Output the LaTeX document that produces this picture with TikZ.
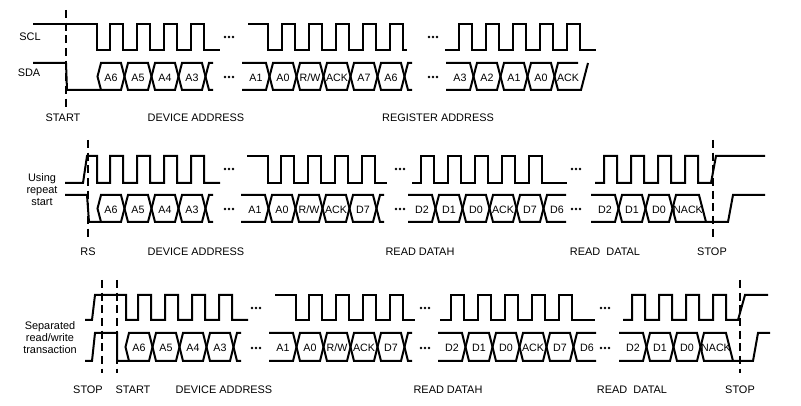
\documentclass[tikz,border=0pt]{standalone}
\usepackage{fontspec}
\setmainfont{Liberation Sans}
\begin{document}
\begin{tikzpicture}[x=0.75pt,y=-0.75pt,
  sig/.style={line width=1.5pt,line join=miter},
  dsh/.style={line width=1.6pt,dash pattern=on 6pt off 3.5pt},
  lab/.style={font=\fontsize{8}{9}\selectfont,inner sep=0pt},
  txt/.style={font=\fontsize{8.2}{10}\selectfont,inner sep=0pt,align=center}]
\useasboundingbox (0,0) rectangle (801,406);
\newcommand\hx[4]{\draw[sig] ({#1-13.5},{(#2+#3)/2}) -- ({#1-10},#2) -- ({#1+10},#2) -- ({#1+13.5},{(#2+#3)/2}) -- ({#1+10},#3) -- ({#1-10},#3) -- cycle;
  \node[lab] at (#1,{(#2+#3)/2+1}) {#4};}
\newcommand\hxo[4]{\draw[sig] ({#1-14},#2) -- ({#1+10},#2) -- ({#1+13.5},{(#2+#3)/2}) -- ({#1+10},#3) -- ({#1-14},#3);
  \node[lab] at (#1,{(#2+#3)/2+1}) {#4};}
\newcommand\hxr[4]{\draw[sig] ({#1+9},#2) -- ({#1-10},#2) -- ({#1-13.5},{(#2+#3)/2}) -- ({#1-10},#3) -- ({#1+9},#3);
  \node[lab] at (#1,{(#2+#3)/2+1}) {#4};}
\newcommand\hxp[3]{\draw[sig] ({#1-6},#2) -- ({#1-10},#2) -- ({#1-13.5},{(#2+#3)/2}) -- ({#1-10},#3) -- ({#1-6},#3);}
\newcommand\dts[2]{\foreach \d in {-4,0,4}{\fill ({#1+\d},#2) circle (1.3);}}
% ================= ROW 1
\draw[sig] (33,24) -- (97,24) -- (97,50) foreach \c in {111,138,165,192}{ -- ({\c-1},50) -- ({\c-1},24) -- ({\c+12},24) -- ({\c+12},50)} -- (220,50);
\draw[sig] (33,63) -- (66,63) -- (67,90) -- (101,90);
\hx{111}{63}{90}{A6}\hx{138}{63}{90}{A5}\hx{165}{63}{90}{A4}\hx{192}{63}{90}{A3}\hxp{219}{63}{90}
\dts{229}{37}\dts{229}{77}
\draw[sig] (248,24) -- (268,24) -- (268,50) foreach \c in {283,310,337,364,391}{ -- ({\c-1},50) -- ({\c-1},24) -- ({\c+12},24) -- ({\c+12},50)} -- (407,50);
\hxo{256}{63}{90}{A1}\hx{283}{63}{90}{A0}\hx{310}{63}{90}{R/W}\hx{337}{63}{90}{ACK}\hx{364}{63}{90}{A7}\hx{391}{63}{90}{A6}\hxp{418}{63}{90}
\dts{433}{37}\dts{433}{77}
\draw[sig] (445,50) foreach \c in {460,487,514,541,568}{ -- ({\c-1},50) -- ({\c-1},24) -- ({\c+12},24) -- ({\c+12},50)} -- (596,50);
\hxo{460}{63}{90}{A3}\hx{487}{63}{90}{A2}\hx{514}{63}{90}{A1}\hx{541}{63}{90}{A0}
\draw[sig] (578,63) -- (558,63) -- (554.5,76.5) -- (558,90) -- (581,90) -- (588,63);
\node[lab] at (568,77.5) {ACK};
\draw[dsh] (66,10) -- (66,108);
\node[txt] (scl) at (30,37) {SCL};
\node[txt] (sda) at (29,73) {SDA};
\node[txt] (st1) at (63,118) {START};
\node[txt] (da1) at (196,118) {DEVICE ADDRESS};
\node[txt] (ra1) at (438,118) {REGISTER ADDRESS};
% ================= ROW 2
\draw[sig] (65,183) -- (83,183) -- (87,156) -- (97,156) -- (97,183) foreach \c in {111,138,165,192}{ -- ({\c-1},183) -- ({\c-1},156) -- ({\c+12},156) -- ({\c+12},183)} -- (220,183);
\draw[sig] (65,195) -- (87,195) -- (89,222) -- (101,222);
\hx{111}{195}{222}{A6}\hx{138}{195}{222}{A5}\hx{165}{195}{222}{A4}\hx{192}{195}{222}{A3}\hxp{219}{195}{222}
\dts{229}{169}\dts{229}{209}
\draw[sig] (247,156) -- (268,156) -- (268,183) foreach \c in {282,309,336,363}{ -- ({\c-1},183) -- ({\c-1},156) -- ({\c+12},156) -- ({\c+12},183)} -- (387,183);
\hxo{255}{195}{222}{A1}\hx{282}{195}{222}{A0}\hx{309}{195}{222}{R/W}\hx{336}{195}{222}{ACK}\hx{363}{195}{222}{D7}\hxp{390}{195}{222}
\dts{400}{169}\dts{400}{209}
\draw[sig] (412,183) foreach \c in {422,449,476,503,530}{ -- ({\c-1},183) -- ({\c-1},156) -- ({\c+12},156) -- ({\c+12},183)} -- (567,183);
\hxo{422}{195}{222}{D2}\hx{449}{195}{222}{D1}\hx{476}{195}{222}{D0}\hx{503}{195}{222}{ACK}\hx{530}{195}{222}{D7}\hxr{557}{195}{222}{D6}
\dts{576}{169}\dts{576}{209}
\draw[sig] (595,183) foreach \c in {605,632,659,686}{ -- ({\c-1},183) -- ({\c-1},156) -- ({\c+12},156) -- ({\c+12},183)} -- (711,183) -- (716,156) -- (765,156);
\hxo{605}{195}{222}{D2}\hx{632}{195}{222}{D1}\hx{659}{195}{222}{D0}
\draw[sig] (672.5,208.5) -- (676,195) -- (699,195) -- (706,222);
\draw[sig] (672.5,208.5) -- (676,222) -- (728,222) -- (733,195) -- (765,195);
\node[lab] at (688,209.5) {NACK};
\draw[dsh] (88,140) -- (88,237);
\draw[dsh] (713,140) -- (713,237);
\node[txt] (urs) at (42,190) {Using\\[-1pt]repeat\\[-1pt]start};
\node[txt] (rs) at (88,252) {RS};
\node[txt] (da2) at (196,252) {DEVICE ADDRESS};
\node[txt] (rh2) at (420,252) {READ DATAH};
\node[txt] (rl2) at (605,252) {READ\ \ DATAL};
\node[txt] (sp2) at (712,252) {STOP};
% ================= ROW 3
\draw[sig] (85,320) -- (92,320) -- (95,295) -- (126,295) -- (126,320) foreach \c in {139,166,193,220}{ -- ({\c-1},320) -- ({\c-1},295) -- ({\c+12},295) -- ({\c+12},320)} -- (248,320);
\draw[sig] (85,361) -- (92,361) -- (95,333) -- (117,333) -- (117,361) -- (129,361);
\hx{139}{333}{361}{A6}\hx{166}{333}{361}{A5}\hx{193}{333}{361}{A4}\hx{220}{333}{361}{A3}\hxp{247}{333}{361}
\dts{256}{308}\dts{256}{348}
\draw[sig] (275,295) -- (296,295) -- (296,320) foreach \c in {310,337,364,391}{ -- ({\c-1},320) -- ({\c-1},295) -- ({\c+12},295) -- ({\c+12},320)} -- (415,320);
\hxo{283}{333}{361}{A1}\hx{310}{333}{361}{A0}\hx{337}{333}{361}{R/W}\hx{364}{333}{361}{ACK}\hx{391}{333}{361}{D7}\hxp{418}{333}{361}
\dts{425}{308}\dts{425}{348}
\draw[sig] (440,320) foreach \c in {452,479,506,533,560}{ -- ({\c-1},320) -- ({\c-1},295) -- ({\c+12},295) -- ({\c+12},320)} -- (595,320);
\hxo{452}{333}{361}{D2}\hx{479}{333}{361}{D1}\hx{506}{333}{361}{D0}\hx{533}{333}{361}{ACK}\hx{560}{333}{361}{D7}\hxr{587}{333}{361}{D6}
\dts{605}{308}\dts{605}{348}
\draw[sig] (623,320) foreach \c in {633,660,687,714}{ -- ({\c-1},320) -- ({\c-1},295) -- ({\c+12},295) -- ({\c+12},320)} -- (738,320) -- (745,295) -- (768,295);
\hxo{633}{333}{361}{D2}\hx{660}{333}{361}{D1}\hx{687}{333}{361}{D0}
\draw[sig] (700.5,347) -- (704,333) -- (726,333) -- (733,361);
\draw[sig] (700.5,347) -- (704,361) -- (753,361) -- (758,333) -- (770,333);
\node[lab] at (716,348) {NACK};
\draw[dsh] (102,280) -- (102,373);
\draw[dsh] (117,280) -- (117,373);
\draw[dsh] (740,280) -- (740,373);
\node[txt] (srw) at (50,338) {Separated\\[-1pt]read/write\\[-1pt]transaction};
\node[txt] (sp3a) at (88,390) {STOP};
\node[txt] (st3) at (133,390) {START};
\node[txt] (da3) at (224,390) {DEVICE ADDRESS};
\node[txt] (rh3) at (448,390) {READ DATAH};
\node[txt] (rl3) at (632,390) {READ\ \ DATAL};
\node[txt] (sp3) at (740,390) {STOP};
\end{tikzpicture}
\end{document}
